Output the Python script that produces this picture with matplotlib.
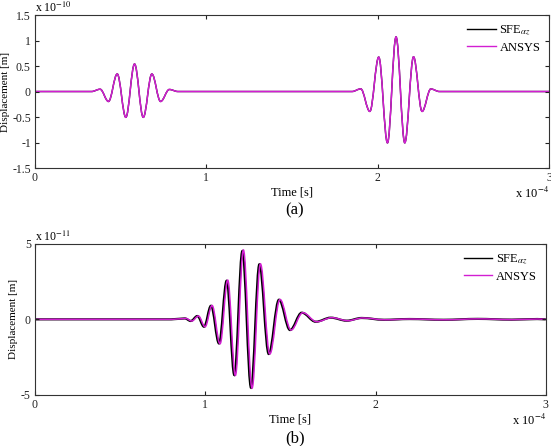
import matplotlib
matplotlib.use("Agg")
import matplotlib.pyplot as plt
from matplotlib.path import Path
from matplotlib.patches import PathPatch

plt.rcParams['font.family'] = ['Liberation Serif', 'DejaVu Serif']
plt.rcParams['mathtext.fontset'] = 'stix'

# (a) extrema of the two wave packets, time in 1e-4 s, displacement in 1e-10 m
a_time = [0.0, 0.330, 0.380, 0.429, 0.480, 0.530, 0.581, 0.632, 0.682, 0.733, 0.784, 0.834,
          1.850, 1.901, 1.954, 2.006, 2.057, 2.107, 2.158, 2.209, 2.259, 2.310, 2.360, 3.0]
a_disp = [0.0, 0.0, 0.045, -0.195, 0.344, -0.506, 0.539, -0.506, 0.344, -0.195, 0.04, 0.0,
          0.0, 0.052, -0.39, 0.675, -1.006, 1.071, -1.006, 0.68, -0.39, 0.05, 0.0, 0.0]

# (b) extrema, time in 1e-4 s, displacement in 1e-11 m
b_time = [0.0, 0.80, 0.84, 0.88, 0.915, 0.954, 0.993, 1.034, 1.081, 1.126, 1.171, 1.218,
          1.269, 1.318, 1.373, 1.433, 1.498, 1.567, 1.649, 1.737, 1.831, 1.919, 2.05,
          2.20, 2.40, 2.60, 2.80, 2.95, 3.0]
b_sfe = [0.0, 0.0, 0.03, 0.06, -0.11, 0.22, -0.49, 0.90, -1.6, 2.56, -3.7, 4.53,
         -4.54, 3.65, -2.3, 1.3, -0.71, 0.44, -0.16, 0.11, -0.09, 0.09, -0.03,
         0.02, -0.03, 0.03, -0.02, 0.02, 0.0]
b_ansys = [0.0, 0.0, 0.03, 0.06, -0.11, 0.22, -0.49, 0.92, -1.62, 2.6, -3.72, 4.6,
           -4.56, 3.68, -2.3, 1.32, -0.71, 0.44, -0.16, 0.11, -0.09, 0.09, -0.03,
           0.02, -0.03, 0.03, -0.02, 0.02, 0.0]
ansys_lag = 0.006

a_yticks = [-1.5, -1, -0.5, 0, 0.5, 1, 1.5]
b_yticks = [-5, 0, 5]
xticks = [0, 1, 2, 3]

sfe_color = 'black'
ansys_color = '#d21ed2'


def wave(ax, t, v, color, lw, lag=0.0):
    # smooth curve through extrema using cubic Bezier segments (flat at each extremum)
    k = 0.363
    verts = [(t[0], v[0])]
    codes = [Path.MOVETO]
    for i in range(len(t) - 1):
        t0, t1 = t[i] + lag, t[i + 1] + lag
        if i == 0:
            t0 = t[0]
        if i == len(t) - 2:
            t1 = t[-1]
        dt = t1 - t0
        verts += [(t0 + k * dt, v[i]), (t1 - k * dt, v[i + 1]), (t1, v[i + 1])]
        codes += [Path.CURVE4] * 3
    ax.add_patch(PathPatch(Path(verts, codes), fill=False, edgecolor=color, lw=lw))


def style(ax, yticks, ylim, exp_y, ylab_x):
    ax.set_xlim(0, 3)
    ax.set_ylim(*ylim)
    ax.set_xticks(xticks)
    ax.set_xticklabels([f'{x:g}' for x in xticks])
    ax.set_yticks(yticks)
    ax.set_yticklabels([f'{y:g}' for y in yticks])
    ax.tick_params(direction='in', length=3, width=0.8, top=True, right=True,
                   labelsize=8.5, colors='#222222', pad=3)
    for s in ax.spines.values():
        s.set_color('#333333')
        s.set_linewidth(0.8)
    ax.set_xlabel('Time [s]', fontsize=9, labelpad=2)
    ax.set_ylabel('Displacement [m]', fontsize=8)
    ax.yaxis.set_label_coords(ylab_x, 0.5)
    ax.text(0, 1.02, r'x 10$^{%d}$' % exp_y, transform=ax.transAxes, fontsize=8.5,
            ha='left', va='baseline')
    ax.text(1, -0.12, r'x 10$^{-4}$', transform=ax.transAxes, fontsize=9,
            ha='right', va='top')
    ax.plot([], [], color=sfe_color, lw=1, label=r'SFE$_{\alpha z}$')
    ax.plot([], [], color=ansys_color, lw=1, label='ANSYS')
    ax.legend(loc='upper right', frameon=False, fontsize=9, handlelength=2.3,
              handletextpad=0.3, borderaxespad=0.3, labelspacing=0.35)


fig = plt.figure(figsize=(5.51, 4.46), dpi=100)
ax1 = fig.add_axes([0.0635, 0.6233, 0.933, 0.343])
ax2 = fig.add_axes([0.0635, 0.115, 0.927, 0.338])

wave(ax1, a_time, a_disp, sfe_color, 1.0)
wave(ax1, a_time, a_disp, ansys_color, 1.1)
style(ax1, a_yticks, (-1.5, 1.5), -10, -0.048)

wave(ax2, b_time, b_sfe, sfe_color, 1.6)
wave(ax2, b_time, b_ansys, ansys_color, 1.1, lag=ansys_lag)
style(ax2, b_yticks, (-5, 5), -11, -0.034)

fig.text(0.535, 1 - 210 / 446, '(a)', fontsize=12, ha='center', va='center')
fig.text(0.535, 1 - 438 / 446, '(b)', fontsize=12, ha='center', va='center')

fig.savefig('out.png', dpi=100)
